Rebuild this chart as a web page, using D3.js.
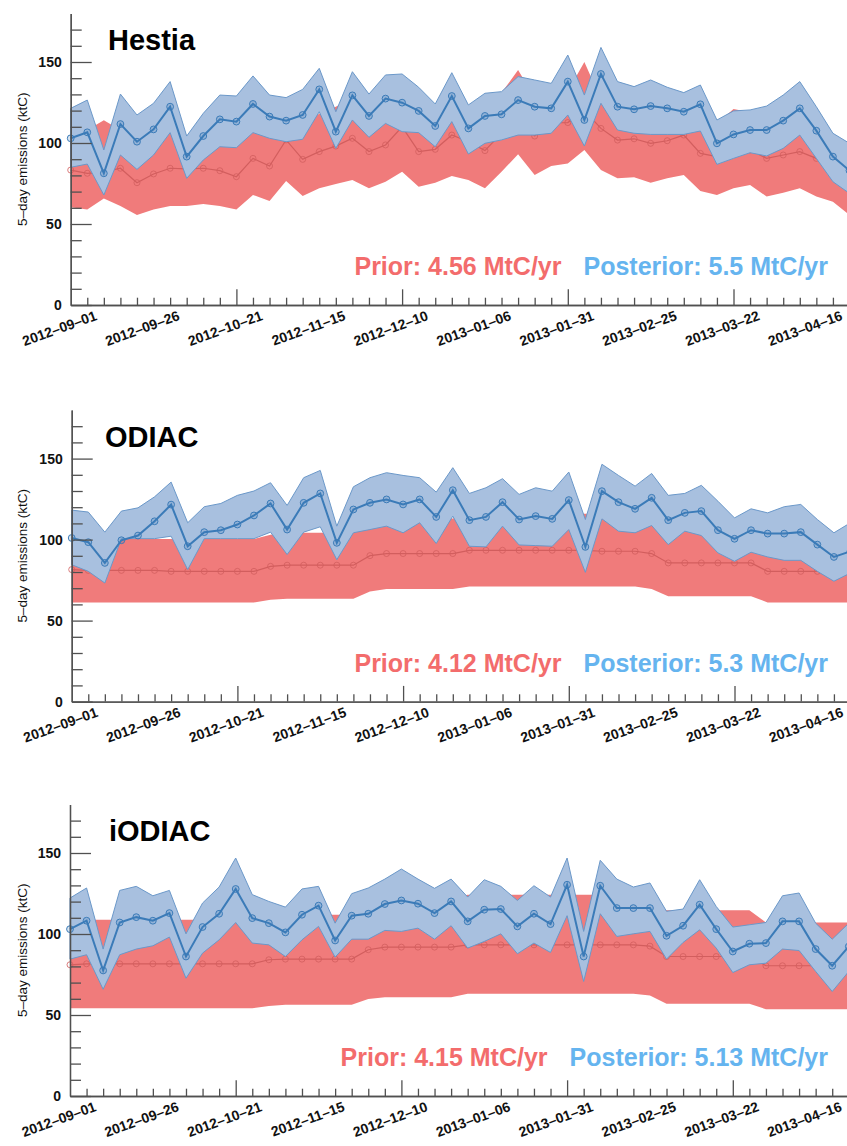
<!DOCTYPE html>
<html>
<head>
<meta charset="utf-8">
<script src="https://cdn.jsdelivr.net/npm/d3@7"></script>
<style>
  body { margin: 0; background: #fff; }
  svg { display: block; }
  text { font-family: "Liberation Sans", Arial, Helvetica, sans-serif; }
</style>
</head>
<body>
<svg width="847" height="1146"></svg>
<script>
// x tick labels (every 5th 5-day period)
const tickLabels = ["2012–09–01", "2012–09–26", "2012–10–21", "2012–11–15", "2012–12–10",
                    "2013–01–06", "2013–01–31", "2013–02–25", "2013–03–22", "2013–04–16"]
const tickIdx = [1, 6, 11, 16, 21, 26, 31, 36, 41, 46]

// ---- Hestia ----
const hestiaPriorMean = [83.3, 81.3, 82, 84.4, 75.5, 80.9, 84.4, 84, 84.4, 82.9, 79.2, 90.5, 85.8, 101.9, 89.9, 94.7, 98.1, 102.9, 94.7, 98.8,
  110, 94.7, 96.1, 104.9, 100.8, 95.3, 106, 116, 104.3, 112.5, 112.6, 120, 109, 101.8, 102.6, 99.8, 101.4, 104.9, 93.6, 91.6,
  95.7, 95.7, 90.5, 92.6, 94.7, 90.5, 83.3, 77]
const hestiaPriorHi = [100, 108, 114, 108, 96, 101, 106, 102, 105, 104, 99, 113, 107, 127, 112, 118, 122.4, 128, 118, 123,
  137, 118, 120, 131, 120, 119, 131, 145, 128, 135, 132, 150, 127, 127, 128, 125, 127, 126, 117, 112,
  121, 119, 113, 116, 118, 113, 104, 96]
const hestiaPriorLo = [60.3, 59, 65.8, 61.1, 55.6, 59, 61.1, 61.1, 62.3, 61.1, 59, 67.9, 64.2, 76.5, 67.3, 72, 74.7, 77.2, 72, 76.1,
  82.3, 73, 75.5, 79.6, 77.2, 72, 82.3, 93, 80.2, 85.8, 87.4, 95.7, 83.3, 78.2, 78.8, 75.5, 78.2, 80.2, 70.4, 67.9,
  72, 74.1, 66.9, 69.3, 72, 66.9, 63.8, 55.6]
const hestiaPostMean = [102.9, 106.6, 81.3, 111.7, 100.8, 108.4, 122.4, 91.6, 104.3, 114.6, 113.2, 124.1, 116.3, 113.8, 117.3, 133.1, 107, 129.4, 116.7, 127.4,
  124.9, 119.8, 110.5, 129, 109, 116.7, 117.7, 126.5, 122.4, 121.4, 137.9, 114.2, 142.6, 122.4, 120.8, 122.8, 121.4, 119.3, 123.9, 99.8,
  105.3, 108, 108, 113.8, 121.4, 107.6, 91.6, 83]
const hestiaPostHi = [121.4, 126.5, 95.7, 130.2, 117.3, 124.5, 137.9, 104.3, 118.3, 129.6, 129, 141.4, 129.6, 128, 133.1, 146.1, 119.3, 144, 130.2, 142,
  142.6, 134.4, 124.1, 143.4, 123.5, 130.7, 131.7, 141, 138.9, 136.8, 154.3, 129.6, 159, 137.9, 134.8, 138.9, 134.4, 131.1, 135.8, 114.2,
  119.8, 120.4, 122.8, 129.6, 137.9, 122.4, 106, 99.8]
const hestiaPostLo = [85, 87, 67.9, 92.6, 83.7, 92.6, 106.4, 78.2, 89.5, 97.7, 97.1, 106.4, 102.9, 100.8, 102.3, 119.3, 96.7, 114.2, 103.5, 112.1,
  107, 106.4, 97.7, 113.2, 93.2, 99.8, 101.9, 104.9, 104.9, 106, 117.3, 98.1, 124.5, 108, 106, 105.3, 105.3, 105.3, 107.4, 86.8,
  90.5, 94, 92, 96.7, 104.9, 90.5, 76.1, 68.9]

// ---- ODIAC ----
const odiacPriorMean = [81.5, 81, 81, 81, 81, 81, 80.4, 80.4, 80.4, 80.4, 80.4, 80.4, 83.5, 84.2, 84.2, 84.2, 84.2, 84.2, 90.1, 91.4,
  91.4, 91.4, 91.4, 91.4, 93.4, 93.4, 93.4, 93.4, 93.4, 93.4, 93.4, 93.4, 92.8, 92.8, 92.8, 91.4, 85.6, 85.6, 85.6, 85.6,
  85.6, 85.6, 80.4, 80.4, 80.4, 80.4, 80.4, 80.4]
const odiacPriorHi = [100.4, 100.4, 100.4, 100.4, 100.4, 100.4, 100.4, 100.4, 100.4, 100.4, 100.4, 100.4, 103, 104.2, 104.2, 104.2, 104.2, 104.2, 111, 113,
  113, 113, 113, 113, 116, 116, 116, 116, 116, 116, 116, 116, 116, 116, 116, 113, 106, 106, 106, 106,
  106, 106, 100, 100, 100, 100, 100, 100]
const odiacPriorLo = [61.2, 61.2, 61.2, 61.2, 61.2, 61.2, 61.2, 61.2, 61.2, 61.2, 61.2, 61.2, 62.9, 63.5, 63.5, 63.5, 63.5, 63.5, 68, 69.5,
  69.5, 69.5, 69.5, 69.5, 71.1, 71.1, 71.1, 71.1, 71.1, 71.1, 71.1, 71.1, 71.1, 71.1, 71.1, 69.5, 65, 65, 65, 65,
  65, 65, 61.2, 61.2, 61.2, 61.2, 61.2, 61.2]
const odiacPostMean = [101, 98.4, 85.6, 99.6, 102.5, 111.3, 121.6, 95.9, 104.6, 105.8, 109.3, 114.9, 122.3, 106.2, 122.7, 128.5, 98, 118.6, 122.7, 124.8,
  121.7, 124.8, 114, 130.5, 112, 114, 123.1, 112.4, 114.5, 112.8, 124.4, 95.5, 129.9, 123.1, 119, 125.8, 112, 116.5, 117.6, 105.8,
  100.5, 105.8, 103.7, 103.7, 104.6, 96.9, 89.3, 92.8]
const odiacPostHi = [118.2, 117, 104.6, 117.6, 119.6, 126.4, 135.5, 110.4, 120.3, 122.3, 127.3, 130, 135.1, 121.1, 138.2, 142.7, 108.3, 132.6, 138.2, 141.3,
  139.6, 138.2, 129.3, 144.4, 128.5, 132, 137.6, 127.9, 132, 129.9, 141.7, 112.4, 146.5, 139.6, 133, 140.8, 127.3, 128.5, 133.5, 123.7,
  113.4, 119, 116.5, 120.3, 121.7, 112.4, 104.2, 110.4]
const odiacPostLo = [84.5, 80.4, 73.2, 100.6, 100.6, 100.6, 102.1, 81.5, 100.6, 100.6, 100.6, 100.6, 104.6, 90.8, 104.6, 107.9, 87.6, 104.2, 106.2, 108.3,
  104.2, 110.4, 97.6, 114.5, 95.9, 95.5, 108.3, 96.7, 96.3, 95.9, 106.2, 79.8, 112.8, 105.2, 104.2, 108.7, 96.9, 105.2, 102.5, 91.8,
  86.6, 92.2, 89.3, 87.2, 87.2, 80.4, 74.3, 79.4]

// ---- iODIAC ----
const iodiacPriorMean = [81, 81.6, 81.6, 81.6, 81.6, 81.6, 81.6, 81.6, 81.6, 81.6, 81.6, 81.6, 84.1, 84.5, 84.5, 84.5, 84.5, 84.5, 90.3, 91.9,
  91.9, 91.9, 91.9, 91.9, 93.3, 93.3, 93.3, 93.3, 93.3, 93.3, 93.3, 93.3, 93.3, 93.3, 93.3, 92.5, 86.1, 86.1, 86.1, 86.1,
  86.1, 86.1, 80.4, 80.4, 80.4, 80.4, 80.4, 80.4]
const iodiacPriorHi = [108.8, 108.8, 108.8, 108.8, 108.8, 108.8, 108.8, 108.8, 108.8, 108.8, 108.8, 108.8, 111, 111.9, 111.9, 111.9, 111.9, 111.9, 120.3, 122.4,
  122.4, 122.4, 122.4, 122.4, 124.3, 124.3, 124.3, 124.3, 124.3, 124.3, 124.3, 124.3, 124.3, 124.3, 124.3, 122, 114.6, 114.6, 114.6, 114.6,
  114.6, 114.6, 107.1, 107.1, 107.1, 107.1, 107.1, 107.1]
const iodiacPriorLo = [54.2, 54.2, 54.2, 54.2, 54.2, 54.2, 54.2, 54.2, 54.2, 54.2, 54.2, 54.2, 55.6, 56.3, 56.3, 56.3, 56.3, 56.3, 59.8, 61,
  61, 61, 61, 61, 63.1, 63.1, 63.1, 63.1, 63.1, 63.1, 63.1, 63.1, 63.1, 63.1, 63.1, 62, 56.9, 56.9, 56.9, 56.9,
  56.9, 56.9, 53.6, 53.6, 53.6, 53.6, 53.6, 53.6]
const iodiacPostMean = [103, 108.2, 77.5, 107.1, 110.4, 108.2, 112.9, 86.1, 104.3, 112.5, 127.8, 109.8, 106.7, 101, 111.9, 117.5, 96, 111.3, 112.5, 118.5,
  120.7, 118.7, 112.9, 120.1, 107.8, 115, 115.4, 104.7, 112.5, 106.1, 130.4, 86.1, 129.8, 116, 116, 116, 98.9, 105.1, 118.1, 103,
  89.2, 94, 94.4, 107.8, 107.8, 90.7, 80.4, 92.3]
const iodiacPostHi = [122.2, 128.4, 90.7, 126.9, 129.4, 123.6, 126.9, 100.1, 119.1, 129, 146.9, 124.3, 120.1, 116.6, 127.8, 129.4, 106.7, 124.9, 128.4, 133.9,
  140.1, 133.9, 128.2, 133.9, 122.8, 133.5, 129.4, 120.7, 129.8, 122.8, 146.9, 101.6, 145.5, 133.9, 129, 131.5, 114, 115.4, 133.5, 117,
  104.3, 105.7, 107.1, 123.6, 125.3, 106.7, 96.8, 106.7]
const iodiacPostLo = [84.5, 87.2, 65.9, 87.2, 90.7, 92.7, 98.1, 72.7, 88.2, 96.4, 107.1, 94.4, 93.3, 86.1, 96.4, 104.7, 85.7, 96.8, 96.8, 102.2,
  101.6, 103.6, 96.8, 105.1, 91.3, 95.4, 100.1, 87.8, 94.4, 88.6, 111.3, 70.7, 112.5, 98.5, 100.1, 101.6, 84.5, 94.8, 102.6, 91.3,
  76.2, 81, 82, 90.7, 89.8, 76.9, 64.5, 76.9]

const panels = [
  {name: "Hestia", prior: "Prior: 4.56 MtC/yr", post: "Posterior: 5.5 MtC/yr",
   pm: hestiaPriorMean, plo: hestiaPriorLo, phi: hestiaPriorHi, qm: hestiaPostMean, qlo: hestiaPostLo, qhi: hestiaPostHi,
   top: 13.4, left: 70.7, tx: 108},
  {name: "ODIAC", prior: "Prior: 4.12 MtC/yr", post: "Posterior: 5.3 MtC/yr",
   pm: odiacPriorMean, plo: odiacPriorLo, phi: odiacPriorHi, qm: odiacPostMean, qlo: odiacPostLo, qhi: odiacPostHi,
   top: 410, left: 71.7, tx: 105},
  {name: "iODIAC", prior: "Prior: 4.15 MtC/yr", post: "Posterior: 5.13 MtC/yr",
   pm: iodiacPriorMean, plo: iodiacPriorLo, phi: iodiacPriorHi, qm: iodiacPostMean, qlo: iodiacPostLo, qhi: iodiacPostHi,
   top: 804.4, left: 70, tx: 109}
]

const svg = d3.select("svg")
const plotH = 291.6
const step = 16.57
const axisColor = "#505050"

const redFill = "#f07b7b", redLine = "#d25e5e"
const blueFill = "#a8c0df", blueEdge = "#6b98c9", blueLine = "#3b7bb8"

panels.forEach(p => {
  const g = svg.append("g")
  const n = p.qm.length
  const x = d3.scaleLinear().domain([0, n - 1]).range([p.left, p.left + step * (n - 1)])
  const y = d3.scaleLinear().domain([0, 180]).range([p.top + plotH, p.top])

  const band = d3.area().x((d, i) => x(i)).y0(d => y(d[0])).y1(d => y(d[1]))
  const line = d3.line().x((d, i) => x(i)).y(d => y(d))

  // prior band + mean
  g.append("path").datum(d3.zip(p.plo, p.phi))
    .attr("d", band).attr("fill", redFill)
  g.append("path").datum(p.pm)
    .attr("d", line).attr("fill", "none").attr("stroke", redLine).attr("stroke-width", 1.2)
  g.selectAll(".pdot").data(p.pm).enter().append("circle")
    .attr("class", "pdot")
    .attr("cx", (d, i) => x(i)).attr("cy", d => y(d)).attr("r", 3)
    .attr("fill", "none").attr("stroke", redLine).attr("stroke-width", 0.8)

  // posterior band + mean
  g.append("path").datum(d3.zip(p.qlo, p.qhi))
    .attr("d", band).attr("fill", blueFill)
    .attr("stroke", blueEdge).attr("stroke-width", 1)
  g.append("path").datum(p.qm)
    .attr("d", line).attr("fill", "none").attr("stroke", blueLine).attr("stroke-width", 2)
  g.selectAll(".qdot").data(p.qm).enter().append("circle")
    .attr("class", "qdot")
    .attr("cx", (d, i) => x(i)).attr("cy", d => y(d)).attr("r", 3.4)
    .attr("fill", "rgba(59,123,184,0.2)").attr("stroke", blueLine).attr("stroke-width", 1)

  // y axis: minor then major ticks, pointing inward
  g.append("g").attr("transform", `translate(${p.left},0)`)
    .call(d3.axisLeft(y).tickValues([10, 20, 30, 40, 60, 70, 80, 90, 110, 120, 130, 140, 160, 170])
      .tickSize(-11).tickSizeOuter(0).tickFormat(""))
  const yMajor = g.append("g").attr("transform", `translate(${p.left},0)`)
    .call(d3.axisLeft(y).tickValues([0, 50, 100, 150]).tickSize(-21).tickSizeOuter(0).tickPadding(9))
  yMajor.selectAll("text").style("font-size", "14px").style("font-weight", "bold").attr("fill", "#111")

  // x axis
  const y0 = y(0)
  g.append("g").attr("transform", `translate(0,${y0})`)
    .call(d3.axisBottom(x).tickValues(d3.range(1, n).filter(i => i % 10 !== 0))
      .tickSize(-7.3).tickSizeOuter(0).tickFormat(""))
  g.append("g").attr("transform", `translate(0,${y0})`)
    .call(d3.axisBottom(x).tickValues([10, 20, 30, 40]).tickSize(-15.7).tickSizeOuter(0).tickFormat(""))
  const xLab = g.append("g").attr("transform", `translate(0,${y0})`)
    .call(d3.axisBottom(x).tickValues(tickIdx).tickSize(0).tickSizeOuter(0)
      .tickFormat((d, i) => tickLabels[i]))
  xLab.select(".domain").remove()
  xLab.selectAll("text")
    .attr("x", 0).attr("y", 0).attr("dy", null)
    .attr("transform", "translate(10,14.5) rotate(-20)")
    .attr("text-anchor", "end")
    .style("font-size", "14px").style("font-weight", "bold").attr("fill", "#111")

  g.selectAll(".domain, .tick line").attr("stroke", axisColor).attr("stroke-width", 1.3)

  // y title
  g.append("text")
    .attr("transform", `translate(22,${p.top + plotH / 2}) rotate(-90)`)
    .attr("text-anchor", "middle").attr("dy", "0.35em")
    .style("font-size", "13.5px").attr("fill", "#111")
    .text("5–day emissions (ktC)")

  // panel title
  g.append("text").attr("x", p.tx).attr("y", p.top + 37)
    .style("font-size", "29px").style("font-weight", "bold").attr("fill", "#000")
    .text(p.name)

  // totals
  const post = g.append("text").attr("x", 828).attr("y", y0 - 30)
    .attr("text-anchor", "end")
    .style("font-size", "25px").style("font-weight", "bold").attr("fill", "#65b4ef")
    .text(p.post)
  const postLen = post.node().getComputedTextLength()
  g.append("text").attr("x", 828 - postLen - 22).attr("y", y0 - 30)
    .attr("text-anchor", "end")
    .style("font-size", "25px").style("font-weight", "bold").attr("fill", "#f36c6c")
    .text(p.prior)
})
</script>
</body>
</html>
